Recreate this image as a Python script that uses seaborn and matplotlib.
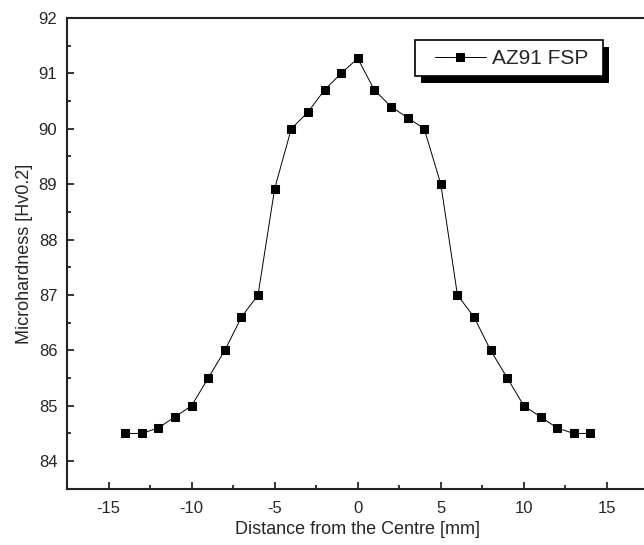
import numpy as np
import pandas as pd
import seaborn as sns
import matplotlib.pyplot as plt
from matplotlib.patches import Rectangle
from matplotlib.ticker import MultipleLocator

# data
distance = [-14, -13, -12, -11, -10, -9, -8, -7, -6, -5, -4, -3, -2, -1, 0,
            1, 2, 3, 4, 5, 6, 7, 8, 9, 10, 11, 12, 13, 14]
hardness = [84.5, 84.5, 84.6, 84.8, 85.0, 85.5, 86.0, 86.6, 87.0, 88.92, 90.0, 90.3, 90.7, 91.0, 91.27,
            90.7, 90.4, 90.2, 90.0, 89.0, 87.0, 86.6, 86.0, 85.5, 85.0, 84.8, 84.6, 84.5, 84.5]
series_name = "AZ91 FSP"

df = pd.DataFrame({"Distance": distance, "Hardness": hardness})

sns.set_style("ticks")
plt.rcParams["font.family"] = ["Liberation Sans", "DejaVu Sans"]
plt.rcParams["axes.unicode_minus"] = False

fig = plt.figure(figsize=(6.44, 5.45), dpi=100)
ax = fig.add_axes([0.104, 0.103, 0.903, 0.864])

sns.lineplot(data=df, x="Distance", y="Hardness", ax=ax, color="black",
             marker="s", markersize=5.5, markeredgecolor="black", linewidth=0.7,
             label=series_name)

ax.set_xlim(-17.5, 17.5)
ax.set_ylim(83.5, 92)
ax.xaxis.set_major_locator(MultipleLocator(5))
ax.xaxis.set_minor_locator(MultipleLocator(2.5))
ax.yaxis.set_major_locator(MultipleLocator(1))
ax.yaxis.set_minor_locator(MultipleLocator(0.5))
ax.tick_params(which="major", direction="in", length=5, width=1.3, labelsize=12, pad=7)
ax.tick_params(axis="x", which="major", pad=9)
ax.tick_params(which="minor", direction="in", length=3, width=1.3)
for s in ax.spines.values():
    s.set_linewidth(1.5)
    s.set_color("#222222")

ax.set_xlabel("Distance from the Centre [mm]", fontsize=13, labelpad=3)
ax.set_ylabel("Microhardness [Hv0.2]", fontsize=13)

leg = ax.legend(loc="upper left", bbox_to_anchor=(0.632, 0.9345), fontsize=15,
                frameon=False, handlelength=2.45, borderpad=0, handletextpad=0.33,
                borderaxespad=0)
leg.set_zorder(10)

# legend box drawn by hand: white frame with a hard black shadow
fig.canvas.draw()
inv = fig.transFigure.inverted()
bb = leg.get_window_extent()
x0, x1 = bb.x0 - 20, bb.x1 + 14
yc = (bb.y0 + bb.y1) / 2
y0, y1 = yc - 18, yc + 18
(fx0, fy0), (fx1, fy1) = inv.transform([(x0, y0), (x1, y1)])
w, h = fx1 - fx0, fy1 - fy0
dx, dy = 6 / 644, 7 / 545
ax.add_patch(Rectangle((fx0 + dx, fy0 - dy), w, h, transform=fig.transFigure,
                       facecolor="black", edgecolor="none", zorder=8, clip_on=False))
ax.add_patch(Rectangle((fx0, fy0), w, h, transform=fig.transFigure,
                       facecolor="white", edgecolor="black", linewidth=1.2,
                       zorder=9, clip_on=False))

fig.savefig("out.png", dpi=100)
